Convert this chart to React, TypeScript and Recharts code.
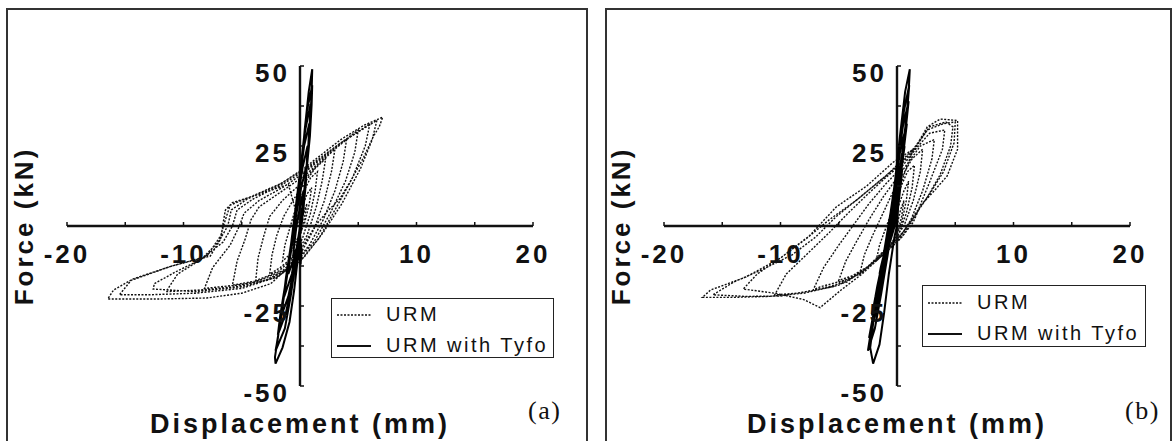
import React from "react";
import { ScatterChart, Scatter, XAxis, YAxis, ReferenceLine, Legend } from "recharts";

// ---- data (mm / kN) ----
const xTicks = [-20, -15, -10, -5, 5, 10, 15, 20];
const xLabels = [-20, -10, 10, 20];
const yTicks = [-50, -37.5, -25, -12.5, 12.5, 25, 37.5, 50];
const yLabels = [-50, -25, 25, 50];

// (a) unreinforced wall, dotted
const urmA: [number, number][] = [
  [0, 0], [0.3, 4], [0.6, 7], [0.4, 3], [0.1, -2], [-0.4, -5], [-0.8, -7], [-0.6, -3], [-0.3, 1],
  [0.2, 6], [0.6, 10], [1.0, 12], [0.8, 7], [0.4, 1], [-0.3, -5], [-0.9, -9], [-1.5, -11], [-1.3, -6], [-0.9, -1], [-0.5, 4],
  [0.2, 10], [0.9, 15], [1.5, 17], [1.3, 11], [0.9, 4], [0.2, -4], [-0.7, -10], [-1.7, -13], [-2.6, -15], [-2.4, -9], [-2.0, -3], [-1.4, 3], [-0.6, 8],
  [0.3, 13], [1.3, 18], [2.2, 21], [1.9, 14], [1.4, 6], [0.6, -3], [-0.5, -10], [-1.8, -14], [-3.0, -16], [-3.8, -17], [-3.6, -10], [-3.1, -3], [-2.6, 3], [-1.5, 8],
  [0, 13], [1.5, 19], [3.0, 24], [2.7, 17], [2.1, 8], [1.2, -1], [0, -9], [-1.5, -14], [-3.5, -17], [-5.8, -18.5], [-5.4, -11], [-4.7, -4], [-4.2, 2], [-3.5, 6], [-1.5, 11],
  [0.5, 16], [2.3, 22], [4.0, 27], [3.7, 20], [3.0, 11], [2.0, 2], [0.8, -6], [-0.8, -13], [-3, -17], [-5.5, -18.5], [-8.2, -19.5], [-7.5, -13], [-6.0, -6], [-5.2, 0], [-4.8, 4], [-3.5, 8], [-1.5, 12],
  [0.5, 17], [2.8, 24], [5.0, 30], [4.7, 23], [3.9, 14], [2.6, 4], [1.2, -5], [-0.5, -12], [-2.5, -16.5], [-5.5, -19], [-8.5, -20], [-11.5, -20.5], [-10.5, -15], [-8.5, -10.5], [-6.6, -5], [-5.8, 0], [-5.4, 5], [-4, 8.5], [-1.5, 13],
  [0.5, 17.5], [3.2, 25], [6.0, 32], [5.6, 25], [4.5, 15], [3.0, 5], [1.6, -4], [0, -11], [-2, -16], [-5, -19], [-9, -20.5], [-12.6, -19.7], [-12.5, -18], [-10.5, -14], [-8.5, -10.5], [-7, -5], [-6.2, 0], [-5.9, 5], [-4.5, 8.5], [-2, 12.5],
  [0.5, 18], [3.5, 26], [6.6, 33], [6.2, 27], [5.2, 18], [3.6, 7], [2.0, -2], [0.3, -10], [-2, -16], [-5, -19.5], [-9, -21], [-13, -21.5], [-15.5, -21.5], [-14.5, -17], [-11, -12.5], [-8, -9.5], [-6.8, -3], [-6.4, 2], [-6, 6.5], [-4, 9.5], [-1.5, 13.5],
  [0.5, 18.5], [3.5, 27], [5.5, 31.5], [7.1, 34], [6.8, 31], [6.3, 28], [5.4, 21], [4.3, 13.8], [3.4, 8.4], [2.3, 4.4], [1.3, 0], [0.3, -6], [-1.0, -13], [-2.5, -18], [-5, -21], [-8, -22.5], [-12, -22.8], [-16.5, -22.8], [-16.0, -20], [-14.3, -16.5], [-11, -12.5], [-7.7, -9.4], [-6.8, -4], [-6.6, 1], [-6.4, 5], [-5.8, 7.3], [-3, 10.5], [-1, 13], [0, 0],
];

// (a) wall with Tyfo overlay, solid
const tyfoA: [number, number][] = [
  [0, 0], [0.2, 6], [0.3, 11], [0, 6], [-0.3, 0], [-0.5, -6], [-0.6, -10], [-0.2, -6], [0.1, -1],
  [0.3, 6], [0.45, 13], [0.5, 18], [0.1, 12], [-0.3, 4], [-0.6, -4], [-0.9, -11], [-1.0, -15], [-0.5, -10], [-0.1, -4],
  [0.25, 4], [0.5, 13], [0.65, 25], [0.2, 18], [-0.2, 8], [-0.6, -3], [-1.0, -13], [-1.3, -19], [-1.35, -22], [-0.7, -15], [-0.3, -7], [0.1, 2],
  [0.45, 13], [0.7, 24], [0.8, 32], [0.35, 25], [-0.05, 14], [-0.45, 2], [-0.9, -9], [-1.3, -19], [-1.6, -26], [-1.7, -29], [-1.0, -22], [-0.5, -13], [-0.1, -5], [0.3, 5],
  [0.55, 18], [0.8, 29], [0.9, 38], [0.45, 30], [0.05, 18], [-0.4, 5], [-0.85, -8], [-1.3, -19], [-1.7, -28], [-1.9, -34], [-1.2, -27], [-0.7, -18], [-0.3, -9], [0.15, 1],
  [0.5, 15], [0.85, 28], [1.0, 38], [1.05, 44], [0.6, 36], [0.2, 23], [-0.2, 9], [-0.7, -4], [-1.2, -16], [-1.6, -28], [-2.0, -37], [-2.1, -39], [-1.3, -32], [-0.8, -22], [-0.35, -11], [0.05, 0],
  [0.5, 16], [0.85, 31], [1.0, 42], [1.05, 49], [0.75, 42], [0.4, 30], [0, 14], [-0.5, 0], [-1.0, -13], [-1.5, -25], [-1.9, -35], [-2.15, -41], [-2.1, -43], [-1.5, -38], [-0.9, -30], [-0.5, -20], [-0.15, -9], [0, 0],
  [-0.1, -4], [0.1, -9], [0.05, -12], [-0.2, -6], [0, -3], [0.15, -8], [0, -11], [-0.15, -7],
];

// (b) unreinforced wall, dotted
const urmB: [number, number][] = [
  [0, 0], [0.3, 5], [0.6, 8], [0.4, 3], [0, -3], [-0.5, -6], [-0.9, -8], [-0.7, -4], [-0.3, 0],
  [0.1, 6], [0.6, 11], [1.0, 14], [0.8, 8], [0.4, 1], [-0.4, -5], [-1.2, -9], [-1.8, -11], [-1.5, -6], [-1, -1], [-0.4, 5],
  [0.3, 12], [0.9, 17], [1.5, 19], [1.3, 12], [0.8, 4], [0, -4], [-1.2, -9], [-2.5, -13], [-3.2, -15], [-2.8, -9], [-2.1, -3], [-1.2, 4], [-0.3, 11],
  [0.5, 16], [1.3, 21], [2.2, 24], [2.0, 17], [1.4, 8], [0.6, 0], [-0.6, -6], [-2.2, -12], [-3.8, -15.5], [-5, -17], [-4.4, -11], [-3.5, -5], [-2.4, 2], [-1.2, 9], [0, 15],
  [1.0, 20], [2.0, 25], [3.2, 27], [3.0, 21], [2.2, 11], [1.2, 2], [0, -5], [-1.8, -11], [-4, -16.5], [-6.6, -19], [-7.2, -20], [-6.3, -13], [-5, -6], [-3.8, 0], [-2.4, 7], [-1, 13],
  [0.3, 18], [1.6, 24], [2.8, 29], [4.1, 30], [3.9, 24], [2.8, 13.7], [1.7, 4], [0.5, -3], [-1, -8.5], [-3, -14], [-5.5, -19], [-8.5, -21], [-10.5, -21.5], [-9.5, -15], [-7.5, -8], [-5.8, -2], [-4.2, 4], [-2.5, 10], [-1, 15],
  [0.3, 19], [1.5, 24], [2.6, 31], [3.7, 33.4], [5.2, 33], [5.2, 24], [4.3, 15.6], [3.1, 10.6], [2.0, 6.3], [1.4, 1.2], [0.3, -4], [-1.5, -10], [-3, -15], [-4.8, -20], [-6.6, -25.5], [-8, -23], [-10.5, -21], [-13.2, -19.7], [-12, -15], [-10, -10], [-7.8, -4], [-5.8, 2], [-3.5, 8], [-1.2, 15],
  [0.3, 19.5], [1.6, 24.5], [2.6, 30], [4, 32], [5, 32.5], [4.9, 26], [4, 17], [2.8, 10], [1.6, 4], [0.5, -2], [-1.2, -8], [-2.6, -13], [-4.3, -17.5], [-7, -20], [-10, -21.9], [-13, -22], [-15.8, -21.5], [-14, -17.5], [-11.5, -13.5], [-9, -9], [-7, -3.5], [-5.2, 3], [-3, 9.5], [-1, 15.5],
  [0.3, 20], [1.5, 24.5], [2.8, 31], [4.2, 32.5], [4.8, 31], [4.6, 25], [3.7, 16], [2.6, 9], [1.5, 3], [0.3, -3], [-1.5, -9.5], [-3, -14.5], [-5, -18.5], [-8, -21], [-11, -22], [-14, -22.3], [-16.7, -22.3], [-16, -20], [-13, -16], [-10, -10], [-7.5, -3], [-5.2, 6], [-2.6, 12.5], [-0.3, 20], [1.4, 24], [0.8, 18], [0, 10], [0, 0],
];

// (b) wall with Tyfo overlay, solid
const tyfoB: [number, number][] = [
  [0, 0], [0.1, 6], [0.2, 10], [-0.2, 4], [-0.6, -2], [-0.9, -7], [-1.0, -9], [-0.6, -5], [-0.2, 0],
  [0.1, 6], [0.35, 14], [0.45, 18], [0, 10], [-0.5, 1], [-1.0, -7], [-1.4, -13], [-1.5, -15], [-0.9, -9], [-0.4, -2],
  [0, 7], [0.4, 18], [0.65, 25], [0.15, 17], [-0.3, 8], [-0.8, -3], [-1.3, -12], [-1.7, -19], [-1.85, -22], [-1.2, -14], [-0.7, -6], [-0.2, 4],
  [0.3, 16], [0.65, 26], [0.85, 32], [0.3, 24], [-0.15, 13], [-0.7, 1], [-1.2, -10], [-1.8, -21], [-2.15, -28], [-1.5, -21], [-1.0, -12], [-0.5, -2],
  [-0.05, 9], [0.45, 22], [0.8, 32], [1.0, 39], [0.5, 31], [0.05, 19], [-0.45, 6], [-1.0, -7], [-1.6, -19], [-2.15, -30], [-2.4, -35], [-1.8, -27], [-1.3, -16], [-0.75, -5],
  [-0.2, 8], [0.45, 23], [0.85, 35], [1.05, 44], [0.6, 36], [0.15, 23], [-0.35, 9], [-0.9, -5], [-1.6, -19], [-2.15, -31], [-2.5, -39], [-1.9, -32], [-1.35, -21], [-0.8, -9], [-0.3, 3],
  [0.35, 18], [0.8, 33], [1.0, 42], [1.1, 49], [0.7, 42], [0.25, 28], [-0.2, 13], [-0.8, -2], [-1.5, -17], [-2.0, -29], [-2.3, -38], [-2.05, -43], [-1.5, -37], [-1.1, -27], [-0.7, -15], [-0.2, -3], [0, 0],
];

const toPts = (arr: [number, number][]) => arr.map(([x, y]) => ({ x, y }));

// ---- layout ----
const W = 590;
const H = 441;
const X_AXIS_H = 30;
const Y_AXIS_W = 60;
// plot area: x 67..533, y 66..386
const MARGIN = { top: 66, right: 57, bottom: 55 - X_AXIS_H, left: 67 - Y_AXIS_W };
const PLOT_LEFT = 67;
const PLOT_W = 466;
const PLOT_H = 320;
const ZERO_X = PLOT_LEFT + PLOT_W / 2;
const ZERO_Y = MARGIN.top + PLOT_H / 2;

const BOLD = "'Liberation Sans', Arial, sans-serif";
const INK = "#111";

const SERIES_STYLE: Record<string, { dash?: string; width: number }> = {
  URM: { dash: "2 1.5", width: 1.4 },
  "URM with Tyfo": { width: 1.8 },
};

const Blank = () => <g />;

const XTick = (props: any) => {
  const { x, payload } = props;
  const v = payload.value;
  return (
    <g>
      <line x1={x} x2={x} y1={ZERO_Y} y2={ZERO_Y - 4} stroke={INK} strokeWidth={1.5} />
      {xLabels.includes(v) && (
        <text x={x} y={ZERO_Y + 37} textAnchor="middle" fontFamily={BOLD} fontWeight="bold" fontSize={26} letterSpacing={3} fill={INK}>
          {v}
        </text>
      )}
    </g>
  );
};

const YTick = (props: any) => {
  const { y, payload } = props;
  const v = payload.value;
  return (
    <g>
      <line x1={ZERO_X} x2={ZERO_X + 4} y1={y} y2={y} stroke={INK} strokeWidth={1.5} />
      {yLabels.includes(v) && (
        <text x={ZERO_X - 10} y={y + 16} textAnchor="end" fontFamily={BOLD} fontWeight="bold" fontSize={26} letterSpacing={3} fill={INK}>
          {v}
        </text>
      )}
    </g>
  );
};

function LegendBox({ payload, w, h, rowTop }: any) {
  return (
    <div
      style={{
        width: w,
        height: h,
        boxSizing: "border-box",
        border: "1.5px solid #222",
        background: "#fff",
        fontFamily: "'Liberation Sans', Arial, sans-serif",
        fontSize: 20,
        letterSpacing: 2.5,
        color: INK,
        paddingTop: rowTop,
      }}
    >
      {(payload || []).map((entry: any) => {
        const st = SERIES_STYLE[entry.value] || { width: 1 };
        return (
          <div key={entry.value} style={{ display: "flex", alignItems: "center", height: 31 }}>
            <svg width={50} height={10} style={{ marginLeft: 4 }}>
              <line x1={1} x2={35} y1={5} y2={5} stroke={INK} strokeWidth={st.width} strokeDasharray={st.dash} />
            </svg>
            <span style={{ lineHeight: "31px" }}>{entry.value}</span>
          </div>
        );
      })}
    </div>
  );
}

type PanelProps = {
  left: number;
  border: [number, number];
  urm: [number, number][];
  tyfo: [number, number][];
  tag: string;
  legend: { left: number; top: number; w: number; h: number; rowTop: number };
};

function Panel({ left, border, urm, tyfo, tag, legend }: PanelProps) {
  return (
    <>
      <div
        style={{
          position: "absolute",
          left: border[0],
          top: 8,
          width: border[1] - border[0],
          height: 460,
          border: "2px solid #333",
          boxSizing: "border-box",
        }}
      />
      <div style={{ position: "absolute", left, top: 0, width: W, height: H }}>
        <ScatterChart width={W} height={H} margin={MARGIN}>
          <XAxis
            type="number"
            dataKey="x"
            domain={[-20, 20]}
            ticks={xTicks}
            interval={0}
            height={X_AXIS_H}
            axisLine={false}
            tickLine={false}
            tick={XTick}
            allowDataOverflow
            label={{
              content: () => (
                <text x={ZERO_X} y={H - 8} textAnchor="middle" fontFamily={BOLD} fontWeight="bold" fontSize={27} letterSpacing={3} fill={INK}>
                  Displacement (mm)
                </text>
              ),
            }}
          />
          <YAxis
            type="number"
            dataKey="y"
            domain={[-50, 50]}
            ticks={yTicks}
            interval={0}
            width={Y_AXIS_W}
            axisLine={false}
            tickLine={false}
            tick={YTick}
            allowDataOverflow
            label={{
              content: () => (
                <text
                  transform={`translate(${PLOT_LEFT - 43}, ${ZERO_Y}) rotate(-90)`}
                  textAnchor="middle"
                  dominantBaseline="central"
                  fontFamily={BOLD}
                  fontWeight="bold"
                  fontSize={26}
                  letterSpacing={3}
                  fill={INK}
                >
                  Force (kN)
                </text>
              ),
            }}
          />
          <ReferenceLine y={0} stroke={INK} strokeWidth={2.6} />
          <ReferenceLine x={0} stroke={INK} strokeWidth={2.4} />
          <Scatter
            name="URM"
            data={toPts(urm)}
            line={{ stroke: INK, strokeWidth: 1.4, strokeDasharray: "2 1.5" }}
            lineType="joint"
            shape={Blank}
            isAnimationActive={false}
          />
          <Scatter
            name="URM with Tyfo"
            data={toPts(tyfo)}
            line={{ stroke: "#000", strokeWidth: 2 }}
            lineType="joint"
            shape={Blank}
            isAnimationActive={false}
          />
          <Legend
            layout="horizontal"
            verticalAlign="middle"
            align="center"
            wrapperStyle={{ left: legend.left, top: legend.top, width: legend.w, height: legend.h }}
            content={(p: any) => <LegendBox payload={p.payload} w={legend.w} h={legend.h} rowTop={legend.rowTop} />}
          />
        </ScatterChart>
      </div>
      <div
        style={{
          position: "absolute",
          left: left + ZERO_X + 228,
          top: 398,
          fontFamily: "'Liberation Serif', 'Times New Roman', serif",
          fontSize: 26,
          lineHeight: "26px",
          letterSpacing: 1.5,
          color: INK,
        }}
      >
        {tag}
      </div>
    </>
  );
}

export default function App() {
  return (
    <div style={{ position: "absolute", left: 0, top: 0, width: 1176, height: 441, overflow: "hidden", background: "#fff" }}>
      <Panel
        left={0}
        border={[6, 588]}
        urm={urmA}
        tyfo={tyfoA}
        tag="(a)"
        legend={{ left: 331, top: 298, w: 223, h: 60, rowTop: 0 }}
      />
      <Panel
        left={597}
        border={[605, 1172]}
        urm={urmB}
        tyfo={tyfoB}
        tag="(b)"
        legend={{ left: 325, top: 285, w: 224, h: 62, rowTop: 1 }}
      />
    </div>
  );
}
